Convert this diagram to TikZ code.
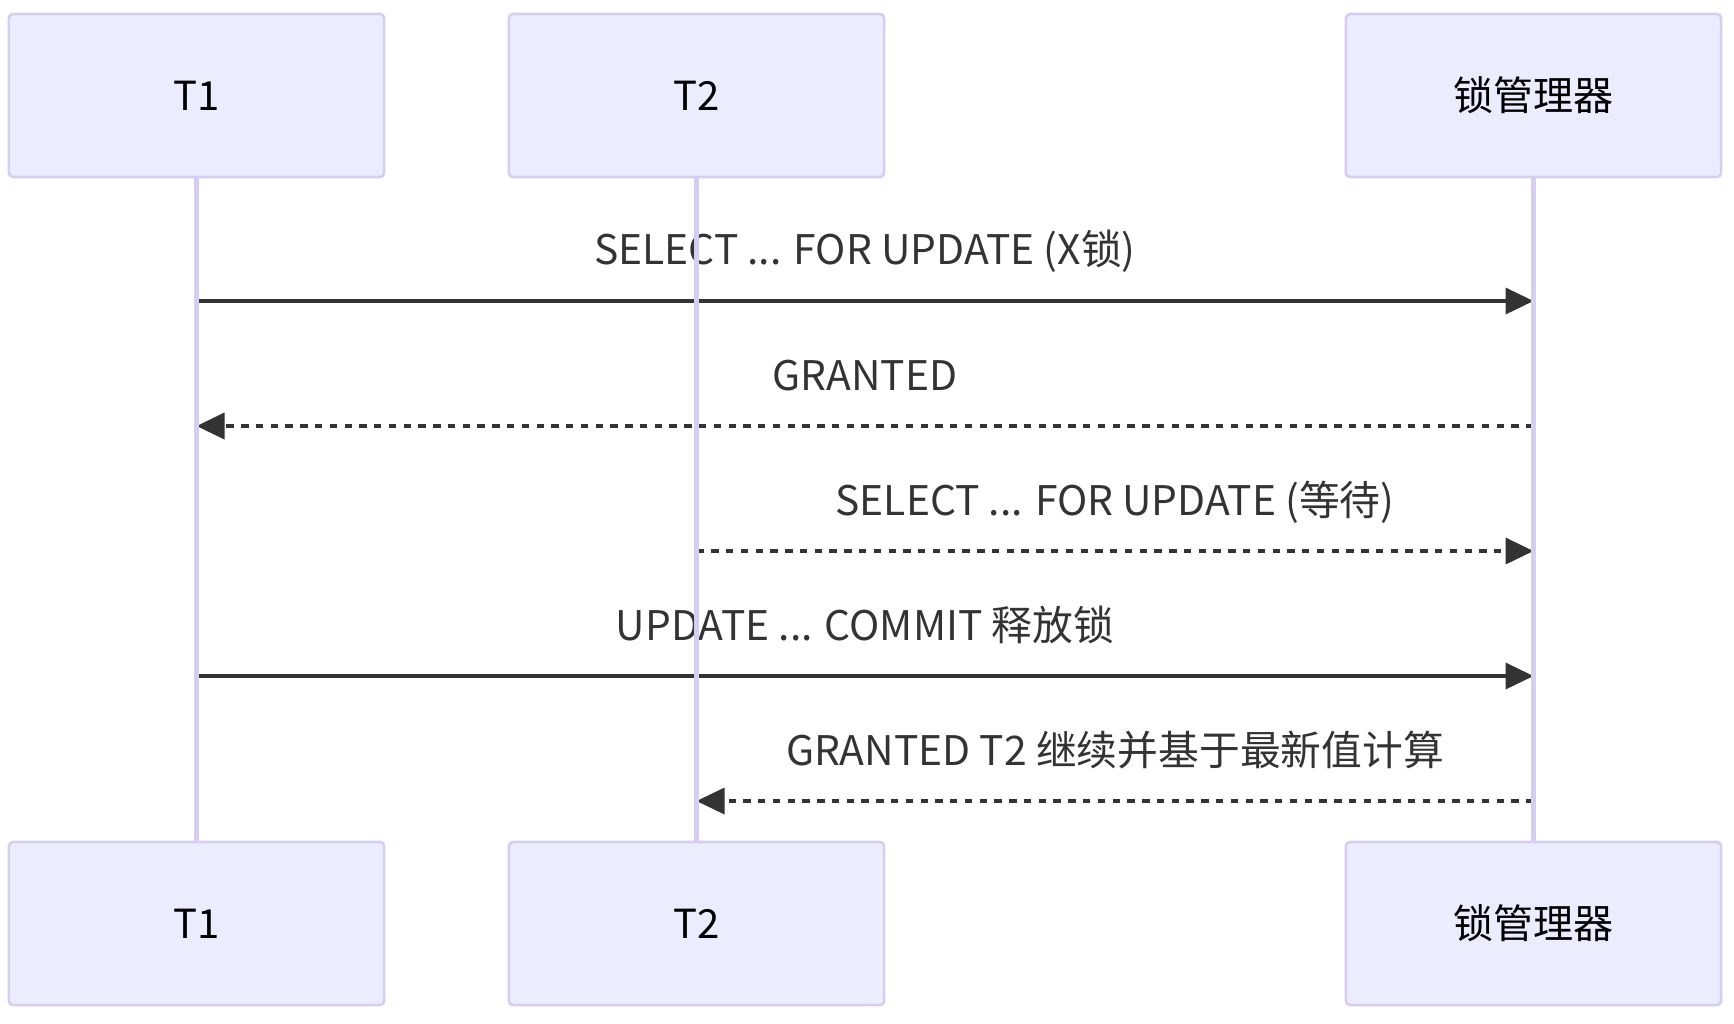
\documentclass[tikz,border=0pt]{standalone}
\usepackage{fontspec}
\setmainfont{Noto Sans CJK SC}
\usetikzlibrary{arrows.meta,calc}

\definecolor{actorfill}{HTML}{ECECFF}
\definecolor{actorline}{HTML}{D6CEF2}
\definecolor{msgcolor}{HTML}{333333}

\tikzset{
  actor/.style={draw=actorline, fill=actorfill, line width=0.75pt, rounded corners=1.2pt,
    minimum width=3.75cm, minimum height=1.63cm, text=black, font=\fontsize{11.4}{13}\selectfont},
  lifeline/.style={draw=actorline, line width=1.4pt},
  msg/.style={draw=msgcolor, line width=1.05pt, -{Triangle[length=0.28cm,width=0.26cm]}},
  reply/.style={msg, dash pattern=on 2.1pt off 2.1pt},
  msglabel/.style={anchor=base, yshift=0.36cm, text=msgcolor, font=\fontsize{11.6}{13}\selectfont}
}

\begin{document}
\begin{tikzpicture}[x=0.01cm, y=-0.01cm]
      \useasboundingbox (0,0) rectangle (1734,1023);

      % actors, top and bottom
      \node[actor] (t1top) at (196.5,95.5) {T1};
      \node[actor] (t2top) at (696.5,95.5) {T2};
      \node[actor] (lmtop) at (1533.5,95.5) {锁管理器};
      \node[actor] (t1bot) at (196.5,923.5) {T1};
      \node[actor] (t2bot) at (696.5,923.5) {T2};
      \node[actor] (lmbot) at (1533.5,923.5) {锁管理器};

      % message rows
      \coordinate (m1) at (0,301);
      \coordinate (m2) at (0,426);
      \coordinate (m3) at (0,551);
      \coordinate (m4) at (0,676);
      \coordinate (m5) at (0,801);

      % messages
      \draw[msg] (t1top |- m1) -- (lmtop |- m1) node[midway, msglabel] {SELECT ... FOR UPDATE (X锁)};
      \draw[reply] (lmtop |- m2) -- (t1top |- m2) node[midway, msglabel] {GRANTED};
      \draw[reply] (t2top |- m3) -- (lmtop |- m3) node[midway, msglabel] {SELECT ... FOR UPDATE (等待)};
      \draw[msg] (t1top |- m4) -- (lmtop |- m4) node[midway, msglabel] {UPDATE ... COMMIT 释放锁};
      \draw[reply] (lmtop |- m5) -- (t2top |- m5) node[midway, msglabel] {GRANTED T2 继续并基于最新值计算};

      % lifelines
      \draw[lifeline] (t1top.south) -- (t1bot.north);
      \draw[lifeline] (t2top.south) -- (t2bot.north);
      \draw[lifeline] (lmtop.south) -- (lmbot.north);
    \end{tikzpicture}
\end{document}
